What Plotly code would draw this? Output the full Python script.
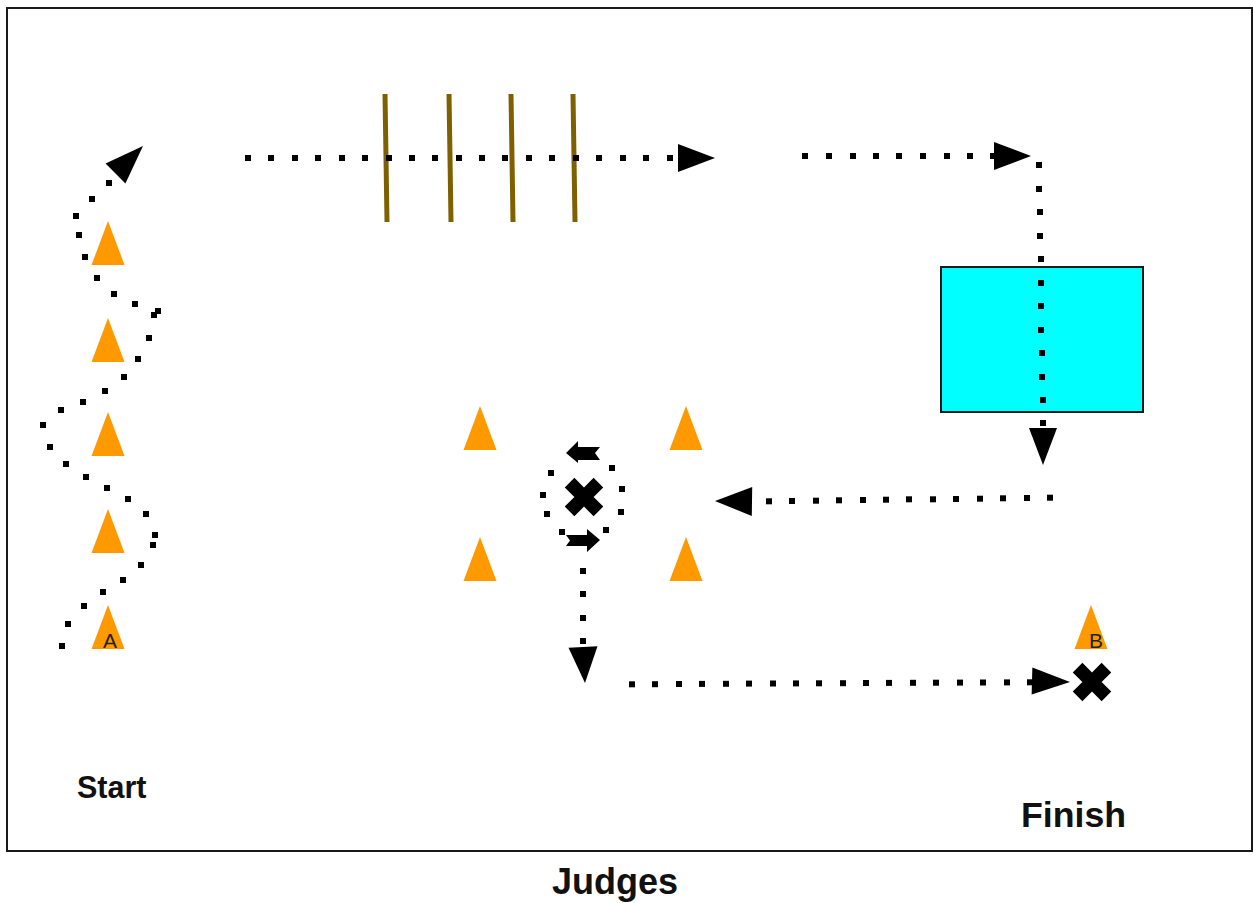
import plotly.graph_objects as go

# --- values (pixel-like diagram units) ---
weave_x = [109, 92, 76, 79, 85, 97, 114, 135, 158, 154, 149, 138, 124, 105, 83, 61, 43, 50, 66, 86, 107, 128, 146, 155, 153, 141, 123, 103, 84, 68, 62]
weave_y = [183, 199, 216, 235, 257, 278, 294, 304, 311, 315, 338, 359, 377, 391, 402, 410, 425, 447, 464, 477, 488, 499, 514, 535, 545, 565, 580, 592, 606, 624, 646]

top_run_x = [248, 271, 295, 318, 342, 365, 389, 412, 435, 459, 482, 505, 529, 552, 576, 599, 623, 646, 670]
top_run_y = [158] * len(top_run_x)

corner_run_x = [805, 829, 853, 876, 899, 923, 947, 970, 993]
corner_run_y = [156] * len(corner_run_x)

drop_run_x = [1039, 1039, 1040, 1040, 1041, 1041, 1041, 1041, 1042, 1042, 1043, 1043]
drop_run_y = [165, 189, 212, 236, 259, 283, 306, 330, 353, 377, 400, 423]

return_run_x = [769, 792, 816, 839, 863, 886, 909, 933, 956, 980, 1003, 1027, 1050]
return_run_y = [501.3, 501, 500.7, 500.3, 500, 499.7, 499.3, 499.3, 499, 498.7, 498.3, 498, 497.7]

circle_run_x = [551, 543, 547, 562, 606, 621, 622, 612]
circle_run_y = [473, 495, 514, 532, 530, 512, 489, 468]

exit_run_x = [583, 583, 583, 583]
exit_run_y = [571, 594, 618, 641]

final_run_x = [632, 655, 679, 702, 726, 749, 773, 796, 819, 843, 866, 889, 913, 936, 960, 983, 1007, 1030]
final_run_y = [684.3, 684.2, 684, 683.9, 683.8, 683.6, 683.5, 683.4, 683.3, 683.2, 683, 682.9, 682.8, 682.7, 682.6, 682.5, 682.4, 682.3]

cone_x = [108, 108, 108, 108, 108, 480, 686, 480, 686, 1091]
cone_base_y = [265, 362, 456, 553, 649, 450, 450, 581, 581, 649]
cone_half_width = 16.5
cone_height = 44

pole_top_x = [385, 449, 511, 573]
pole_bottom_x = [387, 451, 513, 575]
pole_top_y = 94
pole_bottom_y = 222

head_tip_x = [143, 715, 1031, 1043, 715, 585, 1070]
head_tip_y = [146, 158, 156, 465, 501, 683, 682]
head_base_x = [115.5, 678, 994, 1043, 752, 583, 1032]
head_base_y = [173.5, 158, 156, 428, 501.5, 647, 681]
head_half_width = [14, 14, 14, 14, 14.5, 14.5, 13.5]

small_left_x = [566, 578, 578, 600, 595, 600, 578, 578, 566]
small_left_y = [453, 441, 447, 447, 453, 460, 460, 463, 453]
small_right_x = [600, 587, 587, 566, 570, 566, 587, 587, 600]
small_right_y = [540, 529, 535, 535, 540.5, 546, 546, 552, 540]

cross_x = [584, 1092]
cross_y = [497, 682]

pool_x = [941, 1143]
pool_y = [267, 412]

frame_x = [7, 1252]
frame_y = [8, 851]

bold_labels = ["Start", "Finish", "Judges"]
bold_x = [112, 1073, 615]
bold_y = [787, 815, 881]
bold_size = [30.5, 35.7, 36]

cone_labels = ["A", "B"]
cone_label_x = [110, 1096]
cone_label_y = [640, 640]

ORANGE = "#ff9900"
BROWN = "#7f6000"

fig = go.Figure()


def polygon(xs, ys, color):
    fig.add_trace(go.Scatter(x=xs, y=ys, mode="lines", fill="toself", fillcolor=color,
                             line=dict(width=0, color=color), hoverinfo="skip"))


def dots(xs, ys):
    fig.add_trace(go.Scatter(x=xs, y=ys, mode="markers",
                             marker=dict(symbol="square", size=6, color="black", line_width=0),
                             hoverinfo="skip"))


for tx, bx in zip(pole_top_x, pole_bottom_x):
    fig.add_trace(go.Scatter(x=[tx, bx], y=[pole_top_y, pole_bottom_y], mode="lines",
                             line=dict(color=BROWN, width=5), hoverinfo="skip"))

for cx, by in zip(cone_x, cone_base_y):
    polygon([cx - cone_half_width, cx, cx + cone_half_width, cx - cone_half_width],
            [by, by - cone_height, by, by], ORANGE)

for xs, ys in [(weave_x, weave_y), (top_run_x, top_run_y), (corner_run_x, corner_run_y),
               (drop_run_x, drop_run_y), (return_run_x, return_run_y), (circle_run_x, circle_run_y),
               (exit_run_x, exit_run_y), (final_run_x, final_run_y)]:
    dots(xs, ys)

for tx, ty, bx, by, hw in zip(head_tip_x, head_tip_y, head_base_x, head_base_y, head_half_width):
    dx, dy = tx - bx, ty - by
    n = (dx * dx + dy * dy) ** 0.5
    px, py = -dy / n * hw, dx / n * hw
    polygon([tx, bx + px, bx - px, tx], [ty, by + py, by - py, ty], "black")

polygon(small_left_x, small_left_y, "black")
polygon(small_right_x, small_right_y, "black")

fig.add_trace(go.Scatter(x=cross_x, y=cross_y, mode="markers",
                         marker=dict(symbol="x", size=34, color="black", line_width=0),
                         hoverinfo="skip"))

fig.add_shape(type="rect", x0=pool_x[0], x1=pool_x[1], y0=pool_y[0], y1=pool_y[1],
              fillcolor="#00ffff", line=dict(color="#1a1a1a", width=2), layer="below")
fig.add_shape(type="rect", x0=frame_x[0], x1=frame_x[1], y0=frame_y[0], y1=frame_y[1],
              fillcolor="rgba(0,0,0,0)", line=dict(color="#1a1a1a", width=2), layer="below")

for t, x, y, s in zip(bold_labels, bold_x, bold_y, bold_size):
    fig.add_annotation(x=x, y=y, text=f"<b>{t}</b>", showarrow=False, xref="x", yref="y",
                       font=dict(family="Liberation Sans", size=s, color="#111111"))
for t, x, y in zip(cone_labels, cone_label_x, cone_label_y):
    fig.add_annotation(x=x, y=y, text=t, showarrow=False, xref="x", yref="y",
                       font=dict(family="Liberation Sans", size=21, color="#222222"))

fig.update_layout(width=1253, height=903, margin=dict(l=0, r=0, t=0, b=0),
                  paper_bgcolor="white", plot_bgcolor="white", showlegend=False,
                  xaxis=dict(range=[0, 1253], visible=False, fixedrange=True),
                  yaxis=dict(range=[903, 0], visible=False, fixedrange=True))

fig.write_html("out.html", config=dict(displayModeBar=False),
               post_script="document.body.style.margin='0';document.body.style.overflow='hidden';")
